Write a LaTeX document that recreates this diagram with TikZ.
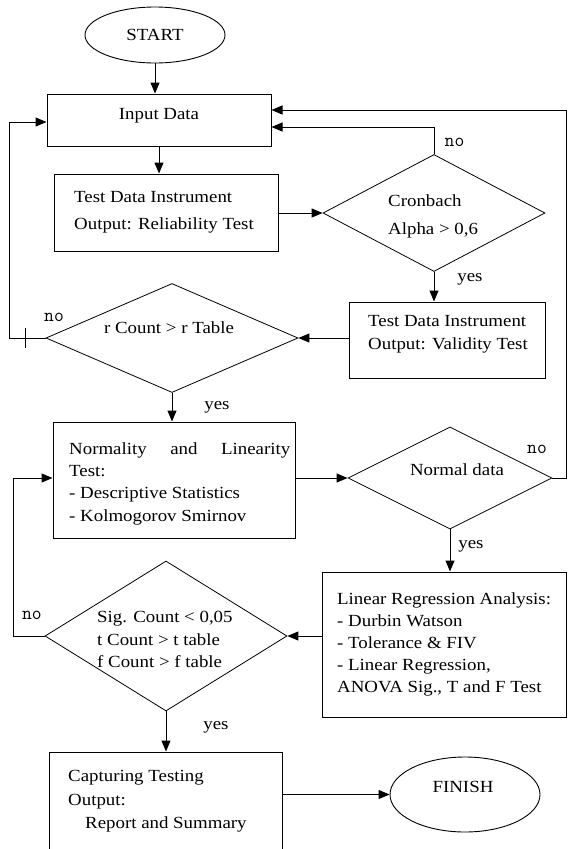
\documentclass[tikz,border=0pt]{standalone}
\usepackage{fontspec}
\setmainfont{Liberation Serif}[FakeStretch=1.11]
\usetikzlibrary{shapes.geometric,arrows.meta}
\tikzset{
  box/.style={draw, line width=1pt, rectangle, inner sep=0pt},
  dia/.style={draw, line width=0.8pt, diamond, inner sep=0pt},
  oval/.style={draw, line width=0.9pt, ellipse, inner sep=0pt},
  txt/.style={inner sep=0pt, font=\fontsize{17}{22.5}\selectfont},
  lbl/.style={inner sep=0pt, font=\ttfamily\fontsize{19}{20}\selectfont},
  arr/.style={line width=1pt, -{Triangle[length=11pt,width=9pt]}},
  ln/.style={line width=1pt},
}
\begin{document}
\begin{tikzpicture}[x=1pt,y=-1pt]
\useasboundingbox (0,0) rectangle (568,849);
\fill[white] (0,0) rectangle (568,849);

% shapes
\node[oval, txt, minimum width=140pt, minimum height=56pt] (start) at (155,35) {START};
\node[box, minimum width=224pt, minimum height=52pt] (input) at (159,120) {};
\node[box, minimum width=224pt, minimum height=77pt] (test) at (166,212.5) {};
\node[dia, minimum width=222pt, minimum height=117pt] (cron) at (434,213) {};
\node[box, minimum width=196pt, minimum height=76pt] (valid) at (447,340) {};
\node[dia, minimum width=252pt, minimum height=109pt] (r) at (172,338) {};
\node[box, minimum width=242pt, minimum height=116pt] (norm) at (174,480) {};
\node[dia, minimum width=204pt, minimum height=102pt] (nd) at (450,478) {};
\node[box, minimum width=244pt, minimum height=145pt] (lin) at (444,644.5) {};
\node[dia, minimum width=242pt, minimum height=150pt] (sig) at (166,636) {};
\node[box, minimum width=233pt, minimum height=101pt] (cap) at (165.5,802.5) {};
\node[oval, minimum width=150pt, minimum height=75pt] (fin) at (465,794.5) {};

% texts
\node[txt] (inputT) at (159,116) {Input Data};
\node[txt, anchor=west, align=left, font=\fontsize{17}{27}\selectfont] (testT) at (74,212.5)
  {Test Data Instrument\\Output: Reliability Test};
\node[txt, anchor=west, align=left, font=\fontsize{17}{28}\selectfont] (cronT) at (388,216)
  {Cronbach\\Alpha > 0,6};
\node[txt, anchor=west, align=left, font=\fontsize{17}{23}\selectfont] (validT) at (368,334.5)
  {Test Data Instrument\\Output: Validity Test};
\node[txt] (rT) at (169,328) {r Count > r Table};
\node[txt, anchor=west, align=left, font=\fontsize{17}{22.3}\selectfont] (normT) at (69,483.5)
  {\makebox[221pt][s]{Normality and Linearity}\\Test:\\- Descriptive Statistics\\- Kolmogorov Smirnov};
\node[txt] (ndT) at (457,470) {Normal data};
\node[txt, anchor=west, align=left, font=\fontsize{17}{22}\selectfont] (linT) at (337,644)
  {Linear Regression Analysis:\\- Durbin Watson\\- Tolerance \& FIV\\- Linear Regression,\\ANOVA Sig., T and F Test};
\node[txt, anchor=west, align=left, font=\fontsize{17}{22.5}\selectfont] (sigT) at (97,639.5)
  {Sig. Count < 0,05\\t Count > t table\\f Count > f table};
\node[txt, anchor=west, align=left, font=\fontsize{17}{23.5}\selectfont] (capT) at (68,801.5)
  {Capturing Testing\\Output:\\\hspace*{17pt}Report and Summary};
\node[txt] (finT) at (463,787) {FINISH};

% labels
\node[lbl] (noC) at (454.5,142) {no};
\node[txt] (yesC) at (470,279) {yes};
\node[lbl] (noR) at (54,317) {no};
\node[txt] (yesR) at (217,407) {yes};
\node[lbl] (noN) at (537,449) {no};
\node[txt] (yesN) at (471,546) {yes};
\node[lbl] (noS) at (32,615) {no};
\node[txt] (yesS) at (216,727) {yes};

% connectors
\draw[arr] (start.south) -- (start.south |- input.north);
\draw[arr] (input.south) -- (input.south |- test.north);
\draw[arr] (test.east |- cron.west) -- (cron.west);
\coordinate (c1) at (434,127);
\draw[arr] (cron.north) -- (c1) -- (input.east |- c1);
\draw[arr] (cron.south) -- (cron.south |- valid.north);
\draw[arr] (valid.west |- r.east) -- (r.east);
\coordinate (l1) at (9,338);
\coordinate (l2) at (9,122);
\draw[arr] (r.west) -- (l1) -- (l2) -- (input.west |- l2);
\coordinate (tk1) at (25,328);
\coordinate (tk2) at (25,348);
\draw[ln] (tk1) -- (tk2);
\draw[arr] (r.south) -- (r.south |- norm.north);
\draw[arr] (norm.east |- nd.west) -- (nd.west);
\coordinate (o1) at (566,478);
\coordinate (o2) at (566,110);
\draw[arr] (nd.east) -- (o1) -- (o2) -- (input.east |- o2);
\draw[arr] (nd.south) -- (nd.south |- lin.north);
\draw[arr] (lin.west |- sig.east) -- (sig.east);
\coordinate (s1) at (13,636);
\coordinate (s2) at (13,478);
\draw[arr] (sig.west) -- (s1) -- (s2) -- (norm.west |- s2);
\draw[arr] (sig.south) -- (sig.south |- cap.north);
\draw[arr] (cap.east |- fin.west) -- (fin.west);
\end{tikzpicture}
\end{document}
